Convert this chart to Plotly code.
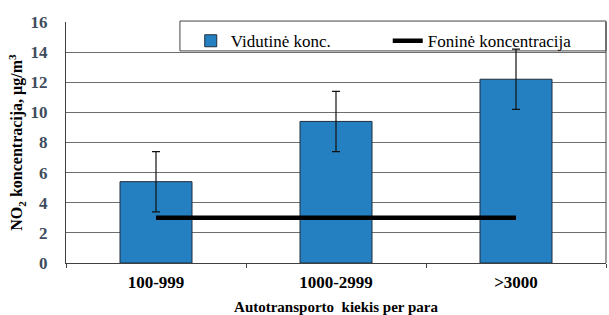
import plotly.graph_objects as go

categories = ["100-999", "1000-2999", ">3000"]
mean_values = [5.4, 9.4, 12.2]
error_values = [2.0, 2.0, 2.0]
background_values = [3.0, 3.0, 3.0]
y_ticks = [0, 2, 4, 6, 8, 10, 12, 14, 16]

FONT = "Liberation Serif"

fig = go.Figure()
fig.add_trace(go.Bar(
    x=categories, y=mean_values, name="Vidutinė konc.",
    marker=dict(color="#2580c2", line=dict(color="#1f2d3a", width=1)),
    width=0.4,
    error_y=dict(type="data", array=error_values, color="#111111", thickness=1.2, width=4),
))
fig.add_trace(go.Scatter(
    x=categories, y=background_values, name="Foninė koncentracija",
    mode="lines", line=dict(color="black", width=4.5),
))

fig.update_layout(
    width=609, height=315,
    margin=dict(l=66, r=3, t=22, b=52),
    paper_bgcolor="white", plot_bgcolor="white",
    font=dict(family=FONT, size=15, color="black"),
    showlegend=True,
    legend=dict(
        orientation="h", x=0.231, y=0.995, xanchor="left", yanchor="top",
        bgcolor="rgba(0,0,0,0)", borderwidth=0,
        font=dict(family=FONT, size=17, color="black"),
        itemwidth=30, entrywidth=152, entrywidthmode="pixels",
        tracegroupgap=0,
    ),
    bargap=0.6,
)
fig.update_xaxes(
    type="category", tickmode="array", tickvals=categories,
    ticktext=["<b>%s</b>" % c.replace(">", "&gt;") for c in categories],
    showline=True, linecolor="#404040", linewidth=1, mirror=False,
    ticks="outside", tickson="boundaries", ticklen=4, tickcolor="#404040",
    ticklabelstandoff=4,
    tickfont=dict(family=FONT, size=17, color="black"),
    title=dict(text="<b>Autotransporto  kiekis per para</b>", font=dict(family=FONT, size=15), standoff=10),
    showgrid=False, automargin=False,
)
fig.update_yaxes(
    range=[0, 16], tickmode="array", tickvals=y_ticks,
    ticktext=["<b>%d</b>" % v for v in y_ticks],
    showline=True, linecolor="#404040", linewidth=1,
    showgrid=True, gridcolor="#6e6e6e", gridwidth=1,
    ticks="", ticklabelstandoff=14,
    tickfont=dict(family=FONT, size=17, color="#3e4c5c"),
    title=dict(text="<b>NO<sub>2</sub> koncentracija, µg/m<sup>3</sup></b>", font=dict(family=FONT, size=16), standoff=3),
    zeroline=False, automargin=False,
)
# right border of plot area
fig.add_shape(type="line", xref="paper", yref="paper", x0=1, x1=1, y0=0, y1=1,
              line=dict(color="#404040", width=1))
# legend frame
fig.add_shape(type="rect", xref="paper", yref="paper", x0=0.211, x1=1.0, y0=0.88, y1=1.004,
              fillcolor="white", line=dict(color="#444444", width=1), layer="between")

fig.write_html("out.html", config={"displayModeBar": False},
               post_script="document.body.style.margin='0';document.body.style.padding='0';")
